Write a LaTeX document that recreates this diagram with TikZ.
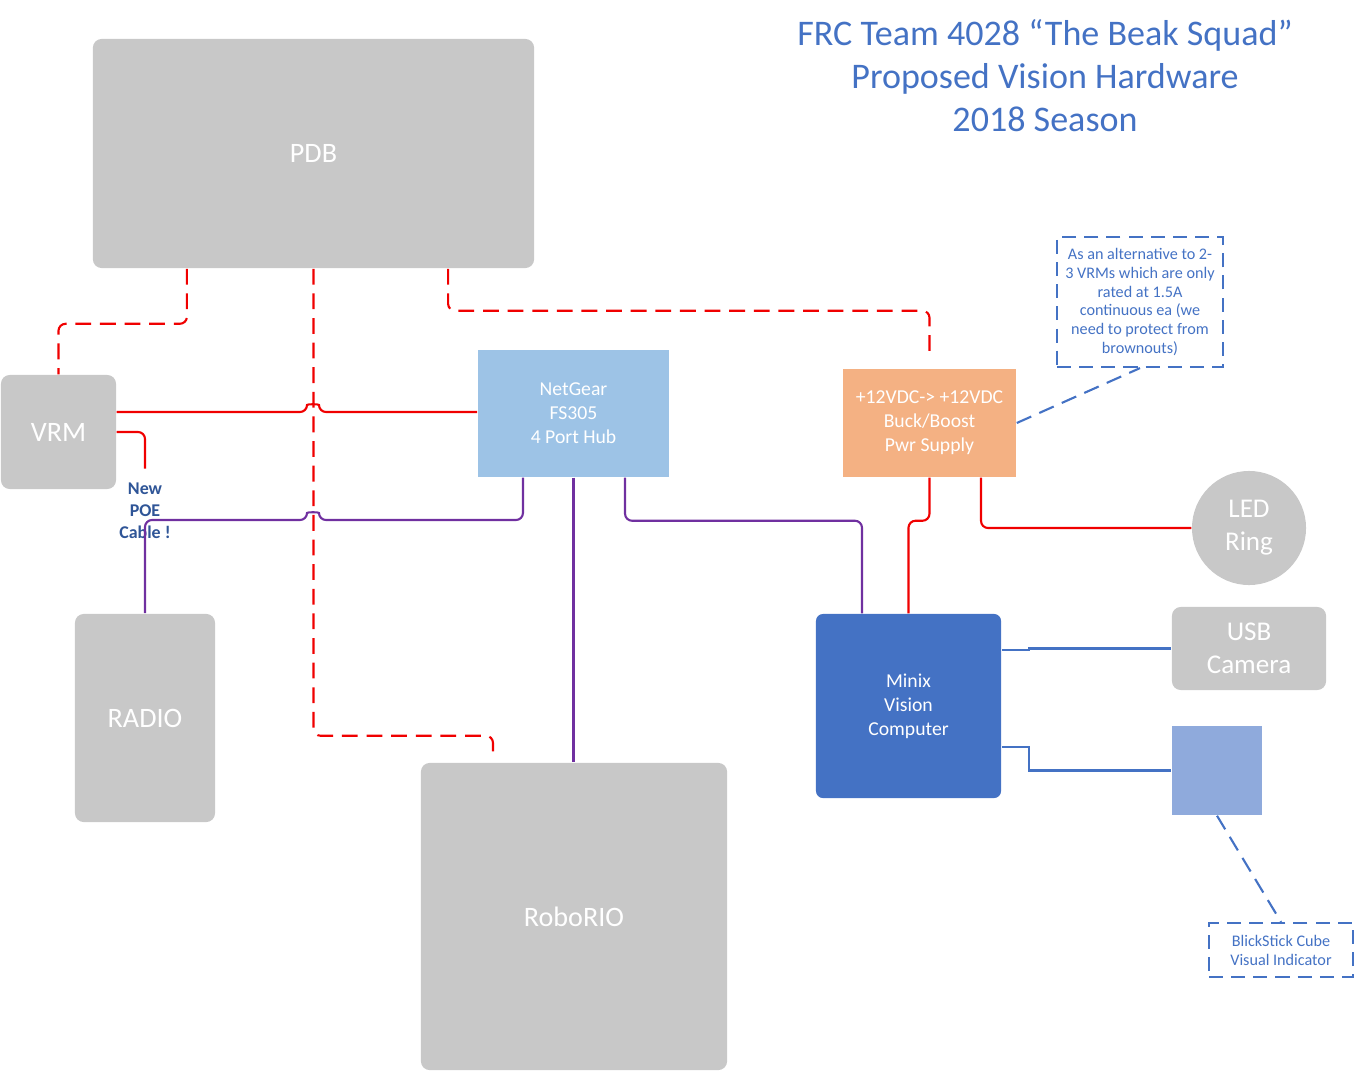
\documentclass[tikz,border=0pt]{standalone}
\usepackage{fontspec}
\setmainfont{Carlito}
\usetikzlibrary{positioning}
\definecolor{boxgray}{HTML}{C8C8C8}
\definecolor{hubblue}{HTML}{9DC3E6}
\definecolor{pwrorange}{HTML}{F4B183}
\definecolor{minixblue}{HTML}{4472C4}
\definecolor{cubeblue}{HTML}{8FAADC}
\definecolor{wirered}{HTML}{F00000}
\definecolor{wirepurple}{HTML}{7030A0}
\definecolor{notetext}{HTML}{2F5597}
\tikzstyle{block}=[shape=rectangle,fill=boxgray,text=white,inner sep=0pt,align=center,rounded corners=2.5pt,font=\fontsize{8}{10}\selectfont]
\tikzstyle{unit}=[shape=rectangle,text=white,inner sep=0pt,align=center,font=\fontsize{5.6}{6.8}\selectfont]
\tikzstyle{note}=[shape=rectangle,draw=minixblue,line width=0.6pt,dash pattern=on 4pt off 2.3pt,text=minixblue,inner sep=0pt,align=center,font=\fontsize{4.6}{5.4}\selectfont]
\tikzstyle{power}=[draw=wirered,line width=0.6pt,rounded corners=2pt]
\tikzstyle{feed}=[power,dash pattern=on 4.5pt off 2.5pt]
\tikzstyle{net}=[draw=wirepurple,line width=0.6pt,rounded corners=2pt]
\tikzstyle{usb}=[draw=minixblue,line width=0.6pt]

\begin{document}
\begin{tikzpicture}[x=0.01cm, y=-0.01cm]
	\useasboundingbox (0,0) rectangle (1355,1070);
	\node[text=minixblue, align=center, font=\fontsize{10.25}{12.2}\selectfont] (title) at (1045,76) {FRC Team 4028 “The Beak Squad”\\Proposed Vision Hardware\\2018 Season};
	\foreach \name/\txt/\x/\y/\w/\h in {pdb/PDB/313.5/153.5/4.41/2.29, vrm/VRM/58.5/432/1.15/1.14, radio/RADIO/145/718/1.40/2.08, robo/RoboRIO/574/916.5/3.06/3.07}
	\node[block, minimum width=\w cm, minimum height=\h cm] (\name) at (\x,\y) {\txt};
	\node[unit, fill=hubblue, minimum width=1.91cm, minimum height=1.27cm] (hub) at (573.5,413.5) {NetGear\\FS305\\4 Port Hub};
	\node[unit, fill=pwrorange, minimum width=1.73cm, minimum height=1.08cm] (buck) at (929.5,423) {+12VDC-> +12VDC\\Buck/Boost\\Pwr Supply};
	\node[unit, fill=minixblue, rounded corners=2pt, minimum width=1.85cm, minimum height=1.84cm] (minix) at (908.5,706) {Minix\\Vision\\Computer};
	\node[shape=circle, fill=boxgray, text=white, inner sep=0pt, minimum size=1.14cm, align=center, font=\fontsize{7.7}{9.4}\selectfont] (led) at (1249,528) {LED\\Ring};
	\node[block, font=\fontsize{7.7}{9.4}\selectfont, minimum width=1.54cm, minimum height=0.83cm] (cam) at (1249,648.5) {USB\\Camera};
	\node[shape=rectangle, fill=cubeblue, minimum width=0.90cm, minimum height=0.89cm] (cube) at (1217,770.5) {};
	\node[note, minimum width=1.66cm, minimum height=1.30cm] (alt) at (1140,302) {As an alternative to 2-\\3 VRMs which are only\\rated at 1.5A\\continuous ea (we\\need to protect from\\brownouts)};
	\node[note, minimum width=1.44cm, minimum height=0.54cm] (blick) at (1281,950) {BlickStick Cube\\Visual Indicator};
	\node[text=notetext, align=center, font=\bfseries\fontsize{5.1}{6.25}\selectfont] (poe) at (145,511) {New\\POE\\Cable !};
	% power feeds from the PDB
	\draw[feed] ([xshift=-1.265cm]pdb.south) -- ++(0,55) -| (vrm.north);
	\draw[feed] (pdb.south) -- ++(0,467) -| ([xshift=-0.81cm,yshift=0.05cm]robo.north);
	\draw[feed] ([xshift=1.345cm]pdb.south) -- ++(0,42) -| ([yshift=0.09cm]buck.north);
	\coordinate (vrmout) at ([yshift=0.2cm]vrm.east);
	\draw[power] (vrmout) -- (307,412) .. controls (307,404) and (319,404) .. (319,412) -- (hub.west |- vrmout);
	\draw[power] (vrm.east) -| ([yshift=0.02cm]poe.north);
	\draw[power] (buck.south) -- ++(0,43) -| (minix.north);
	\draw[power] ([xshift=0.515cm]buck.south) |- (led.west);
	% ethernet
	\draw[net] (radio.north) |- (307,520) .. controls (307,512) and (319,512) .. (319,520) -| ([xshift=-0.505cm]hub.south);
	\draw[net] (hub.south) -- (hub.south |- robo.north);
	\draw[net] ([xshift=0.515cm]hub.south) -- ++(0,43) -| ([xshift=-0.465cm]minix.north);
	% usb
	\draw[usb] ([yshift=0.56cm]minix.east) -- ++(27,0) |- (cam.west);
	\draw[usb] ([yshift=-0.41cm]minix.east) -- ++(27,0) |- (cube.west);
	\draw[usb, dash pattern=on 4.5pt off 2.5pt] (buck.east) -- (alt.south);
	\draw[usb, dash pattern=on 4.5pt off 2.5pt] (cube.south) -- (blick.north);
\end{tikzpicture}
\end{document}
